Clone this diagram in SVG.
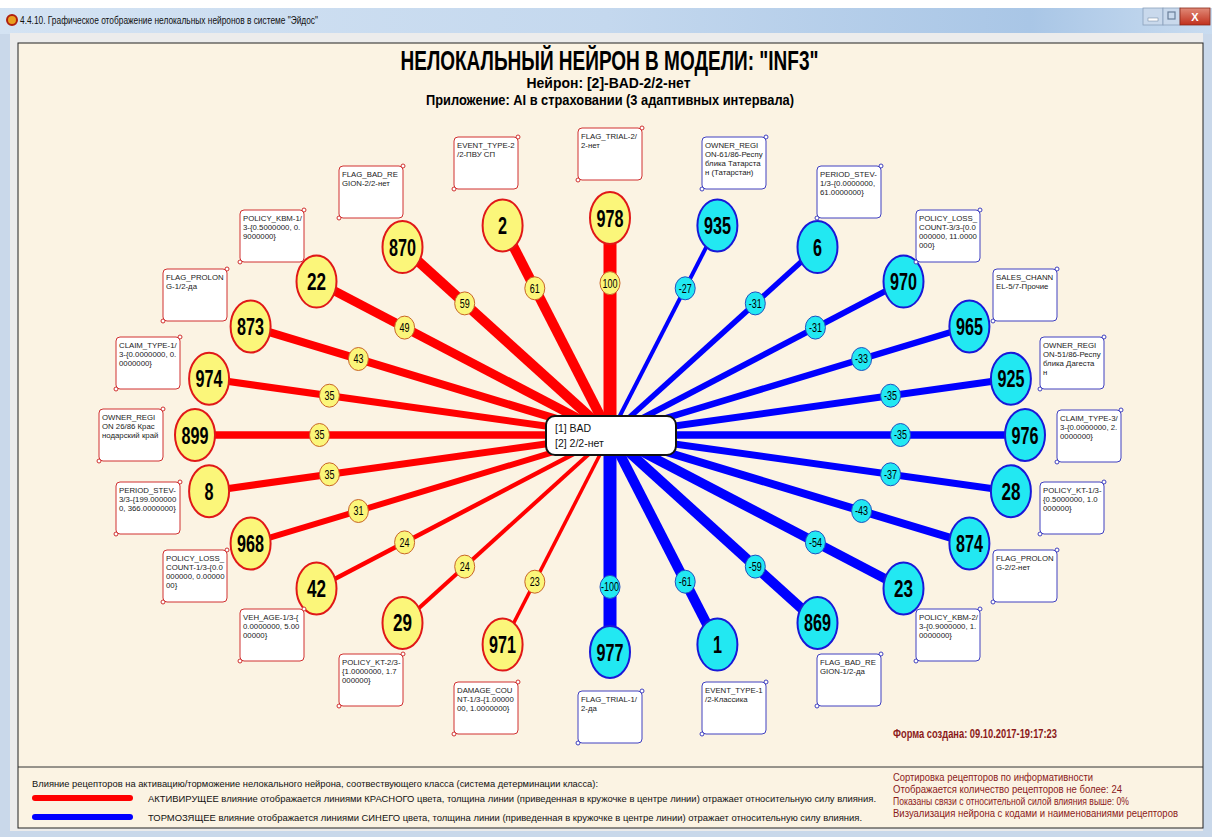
<svg xmlns="http://www.w3.org/2000/svg" width="1212" height="837" viewBox="0 0 1212 837">
<defs>
<linearGradient id="tb" x1="0" y1="0" x2="1" y2="0">
<stop offset="0" stop-color="#d4e3f3"/><stop offset="0.5" stop-color="#c4d8ee"/><stop offset="0.85" stop-color="#a9c6e6"/><stop offset="1" stop-color="#c9dcf0"/>
</linearGradient>
<linearGradient id="cl" x1="0" y1="0" x2="0" y2="1">
<stop offset="0" stop-color="#e08a78"/><stop offset="1" stop-color="#c1301c"/>
</linearGradient>
</defs>
<style>
.t{font-family:"Liberation Sans",Arial,sans-serif}
.ln-r{stroke:#FF0000;fill:none}
.ln-b{stroke:#0000FF;fill:none}
.nd-r{fill:#FBF67A;stroke:#E01818;stroke-width:2}
.nd-b{fill:#22E8F2;stroke:#1818D8;stroke-width:2}
.num{font-family:"Liberation Sans",Arial,sans-serif;font-weight:bold;font-size:24px;text-anchor:middle;fill:#000}
.ml-r{fill:#FBF67A;stroke:#C86428;stroke-width:1}
.ml-b{fill:#22E8F2;stroke:#2050C0;stroke-width:1}
.mt{font-family:"Liberation Sans",Arial,sans-serif;font-size:12px;text-anchor:middle;fill:#000}
.bx-r{fill:#fff;stroke:#D03030;stroke-width:1}
.bx-b{fill:#fff;stroke:#4040C0;stroke-width:1}
.dt-r{fill:#fff;stroke:#D03030;stroke-width:1}
.dt-b{fill:#fff;stroke:#4040C0;stroke-width:1}
.bt{font-family:"Liberation Sans",Arial,sans-serif;font-size:7.8px;fill:#222}
.lg{font-family:"Liberation Sans",Arial,sans-serif;font-size:9.5px;fill:#111}
.lr{font-family:"Liberation Sans",Arial,sans-serif;font-size:10px;fill:#8B1A1A}
</style>

<!-- window chrome -->
<rect x="0" y="0" width="1212" height="837" fill="#ffffff"/>
<rect x="0" y="8" width="1212" height="829" fill="#c9d8ea"/>
<rect x="0" y="8" width="1212" height="26" fill="url(#tb)"/>
<rect x="10" y="33" width="1193" height="798" fill="#ececec"/>
<circle cx="12" cy="20" r="5" fill="#e8a020" stroke="#b02010" stroke-width="2"/>
<text class="t" x="20" y="24" font-size="10" fill="#111" textLength="298" lengthAdjust="spacingAndGlyphs">4.4.10. Графическое отображение нелокальных нейронов в системе "Эйдос"</text>
<rect x="1143" y="8" width="20" height="17" fill="#c9d9ec" stroke="#8aa0bc" stroke-width="0.8"/>
<rect x="1148" y="18" width="10" height="3" fill="#ffffff" stroke="#6a7f99" stroke-width="0.5"/>
<rect x="1163" y="8" width="17" height="17" fill="#c9d9ec" stroke="#8aa0bc" stroke-width="0.8"/>
<rect x="1168" y="12" width="7" height="7" fill="none" stroke="#6a7f99" stroke-width="1.2"/>
<rect x="1180" y="8" width="30" height="17" fill="url(#cl)" stroke="#8a2a1a" stroke-width="0.8"/>
<text class="t" x="1195" y="21" font-size="11" font-weight="bold" fill="#ffffff" text-anchor="middle">X</text>

<!-- drawing panel -->
<rect x="18" y="43" width="1185" height="785" fill="#FBF3E3" stroke="#222" stroke-width="1"/>
<line x1="18" y1="767" x2="1203" y2="767" stroke="#333" stroke-width="1"/>

<!-- titles -->
<text class="t" x="609.5" y="70" font-size="27" font-weight="bold" text-anchor="middle" fill="#000" textLength="418" lengthAdjust="spacingAndGlyphs">НЕЛОКАЛЬНЫЙ НЕЙРОН В МОДЕЛИ: "INF3"</text>
<text class="t" x="608.5" y="88" font-size="14" font-weight="bold" text-anchor="middle" fill="#000" textLength="164" lengthAdjust="spacingAndGlyphs">Нейрон: [2]-BAD-2/2-нет</text>
<text class="t" x="610" y="105" font-size="14" font-weight="bold" text-anchor="middle" fill="#000" textLength="368" lengthAdjust="spacingAndGlyphs">Приложение: AI в страховании (3 адаптивных интервала)</text>

<!-- connectors -->
<g id="connectors">
<line class="ln-r" x1="610" y1="435" x2="610" y2="218" stroke-width="13"/>
<line class="ln-r" x1="610" y1="435" x2="502.6" y2="225.4" stroke-width="10"/>
<line class="ln-r" x1="610" y1="435" x2="402.5" y2="247.1" stroke-width="10"/>
<line class="ln-r" x1="610" y1="435" x2="316.5" y2="281.6" stroke-width="9"/>
<line class="ln-r" x1="610" y1="435" x2="250.6" y2="326.5" stroke-width="8"/>
<line class="ln-r" x1="610" y1="435" x2="209.1" y2="378.8" stroke-width="7"/>
<line class="ln-r" x1="610" y1="435" x2="195" y2="435" stroke-width="7.5"/>
<line class="ln-r" x1="610" y1="435" x2="209.1" y2="491.2" stroke-width="7"/>
<line class="ln-r" x1="610" y1="435" x2="250.6" y2="543.5" stroke-width="6"/>
<line class="ln-r" x1="610" y1="435" x2="316.5" y2="588.4" stroke-width="4.5"/>
<line class="ln-r" x1="610" y1="435" x2="402.5" y2="622.9" stroke-width="4"/>
<line class="ln-r" x1="610" y1="435" x2="502.6" y2="644.6" stroke-width="3.5"/>
<line class="ln-b" x1="610" y1="435" x2="717.4" y2="225.4" stroke-width="4"/>
<line class="ln-b" x1="610" y1="435" x2="817.5" y2="247.1" stroke-width="5.5"/>
<line class="ln-b" x1="610" y1="435" x2="903.5" y2="281.6" stroke-width="6"/>
<line class="ln-b" x1="610" y1="435" x2="969.4" y2="326.5" stroke-width="6.5"/>
<line class="ln-b" x1="610" y1="435" x2="1010.9" y2="378.8" stroke-width="7"/>
<line class="ln-b" x1="610" y1="435" x2="1025" y2="435" stroke-width="7.5"/>
<line class="ln-b" x1="610" y1="435" x2="1010.9" y2="491.2" stroke-width="7"/>
<line class="ln-b" x1="610" y1="435" x2="969.4" y2="543.5" stroke-width="8"/>
<line class="ln-b" x1="610" y1="435" x2="903.5" y2="588.4" stroke-width="9.5"/>
<line class="ln-b" x1="610" y1="435" x2="817.5" y2="622.9" stroke-width="10"/>
<line class="ln-b" x1="610" y1="435" x2="717.4" y2="644.6" stroke-width="10"/>
<line class="ln-b" x1="610" y1="435" x2="610" y2="652" stroke-width="13"/>

<ellipse class="ml-r" cx="610" cy="283.1" rx="10" ry="11.5"/><text class="mt" x="610" y="287.5" textLength="15" lengthAdjust="spacingAndGlyphs">100</text>
<ellipse class="ml-r" cx="534.8" cy="288.3" rx="10" ry="11.5"/><text class="mt" x="534.8" y="292.7" textLength="10" lengthAdjust="spacingAndGlyphs">61</text>
<ellipse class="ml-r" cx="464.7" cy="303.4" rx="10" ry="11.5"/><text class="mt" x="464.7" y="307.8" textLength="10" lengthAdjust="spacingAndGlyphs">59</text>
<ellipse class="ml-r" cx="404.6" cy="327.6" rx="10" ry="11.5"/><text class="mt" x="404.6" y="332" textLength="10" lengthAdjust="spacingAndGlyphs">49</text>
<ellipse class="ml-r" cx="358.4" cy="359" rx="10" ry="11.5"/><text class="mt" x="358.4" y="363.4" textLength="10" lengthAdjust="spacingAndGlyphs">43</text>
<ellipse class="ml-r" cx="329.4" cy="395.7" rx="10" ry="11.5"/><text class="mt" x="329.4" y="400.1" textLength="10" lengthAdjust="spacingAndGlyphs">35</text>
<ellipse class="ml-r" cx="319.5" cy="435" rx="10" ry="11.5"/><text class="mt" x="319.5" y="439.4" textLength="10" lengthAdjust="spacingAndGlyphs">35</text>
<ellipse class="ml-r" cx="329.4" cy="474.3" rx="10" ry="11.5"/><text class="mt" x="329.4" y="478.7" textLength="10" lengthAdjust="spacingAndGlyphs">35</text>
<ellipse class="ml-r" cx="358.4" cy="511" rx="10" ry="11.5"/><text class="mt" x="358.4" y="515.4" textLength="10" lengthAdjust="spacingAndGlyphs">31</text>
<ellipse class="ml-r" cx="404.6" cy="542.4" rx="10" ry="11.5"/><text class="mt" x="404.6" y="546.8" textLength="10" lengthAdjust="spacingAndGlyphs">24</text>
<ellipse class="ml-r" cx="464.7" cy="566.6" rx="10" ry="11.5"/><text class="mt" x="464.7" y="571" textLength="10" lengthAdjust="spacingAndGlyphs">24</text>
<ellipse class="ml-r" cx="534.8" cy="581.7" rx="10" ry="11.5"/><text class="mt" x="534.8" y="586.1" textLength="10" lengthAdjust="spacingAndGlyphs">23</text>
<ellipse class="ml-b" cx="685.2" cy="288.3" rx="10" ry="11.5"/><text class="mt" x="685.2" y="292.7" textLength="13" lengthAdjust="spacingAndGlyphs">-27</text>
<ellipse class="ml-b" cx="755.3" cy="303.4" rx="10" ry="11.5"/><text class="mt" x="755.3" y="307.8" textLength="13" lengthAdjust="spacingAndGlyphs">-31</text>
<ellipse class="ml-b" cx="815.4" cy="327.6" rx="10" ry="11.5"/><text class="mt" x="815.4" y="332" textLength="13" lengthAdjust="spacingAndGlyphs">-31</text>
<ellipse class="ml-b" cx="861.6" cy="359" rx="10" ry="11.5"/><text class="mt" x="861.6" y="363.4" textLength="13" lengthAdjust="spacingAndGlyphs">-33</text>
<ellipse class="ml-b" cx="890.6" cy="395.7" rx="10" ry="11.5"/><text class="mt" x="890.6" y="400.1" textLength="13" lengthAdjust="spacingAndGlyphs">-35</text>
<ellipse class="ml-b" cx="900.5" cy="435" rx="10" ry="11.5"/><text class="mt" x="900.5" y="439.4" textLength="13" lengthAdjust="spacingAndGlyphs">-35</text>
<ellipse class="ml-b" cx="890.6" cy="474.3" rx="10" ry="11.5"/><text class="mt" x="890.6" y="478.7" textLength="13" lengthAdjust="spacingAndGlyphs">-37</text>
<ellipse class="ml-b" cx="861.6" cy="511" rx="10" ry="11.5"/><text class="mt" x="861.6" y="515.4" textLength="13" lengthAdjust="spacingAndGlyphs">-43</text>
<ellipse class="ml-b" cx="815.4" cy="542.4" rx="10" ry="11.5"/><text class="mt" x="815.4" y="546.8" textLength="13" lengthAdjust="spacingAndGlyphs">-54</text>
<ellipse class="ml-b" cx="755.3" cy="566.6" rx="10" ry="11.5"/><text class="mt" x="755.3" y="571" textLength="13" lengthAdjust="spacingAndGlyphs">-59</text>
<ellipse class="ml-b" cx="685.2" cy="581.7" rx="10" ry="11.5"/><text class="mt" x="685.2" y="586.1" textLength="13" lengthAdjust="spacingAndGlyphs">-61</text>
<ellipse class="ml-b" cx="610" cy="586.9" rx="10" ry="11.5"/><text class="mt" x="610" y="591.3" textLength="18" lengthAdjust="spacingAndGlyphs">-100</text>
</g>

<!-- center neuron -->
<g id="neuron">
<rect x="546" y="416" width="130" height="39" rx="9" fill="#fff" stroke="#111" stroke-width="2"/>
<text class="t" x="555" y="432" font-size="10.5" fill="#111">[1] BAD</text>
<text class="t" x="555" y="447" font-size="10.5" fill="#111">[2] 2/2-нет</text>
</g>

<!-- red (activating) receptors -->
<g id="n978">
<ellipse class="nd-r" cx="610" cy="218" rx="20" ry="26"/><text class="num" x="610" y="226.5" textLength="27" lengthAdjust="spacingAndGlyphs">978</text>
<rect class="bx-r" x="578" y="128" width="64" height="52" rx="4"/><circle class="dt-r" cx="642" cy="128" r="2"/><circle class="dt-r" cx="578" cy="180" r="2"/>
<text class="bt" x="581" y="139">FLAG_TRIAL-2/<tspan x="581" dy="9">2-нет</tspan></text>
</g>
<g id="n2">
<ellipse class="nd-r" cx="502.6" cy="225.4" rx="20" ry="26"/><text class="num" x="502.6" y="233.9" textLength="9" lengthAdjust="spacingAndGlyphs">2</text>
<rect class="bx-r" x="454" y="137" width="64" height="52" rx="4"/><circle class="dt-r" cx="518" cy="137" r="2"/><circle class="dt-r" cx="454" cy="189" r="2"/>
<text class="bt" x="457" y="148">EVENT_TYPE-2<tspan x="457" dy="9">/2-ПВУ СП</tspan></text>
</g>
<g id="n870">
<ellipse class="nd-r" cx="402.5" cy="247.1" rx="20" ry="26"/><text class="num" x="402.5" y="255.6" textLength="27" lengthAdjust="spacingAndGlyphs">870</text>
<rect class="bx-r" x="339" y="166" width="64" height="52" rx="4"/><circle class="dt-r" cx="403" cy="166" r="2"/><circle class="dt-r" cx="339" cy="218" r="2"/>
<text class="bt" x="342" y="177">FLAG_BAD_RE<tspan x="342" dy="9">GION-2/2-нет</tspan></text>
</g>
<g id="n22">
<ellipse class="nd-r" cx="316.5" cy="281.6" rx="20" ry="26"/><text class="num" x="316.5" y="290.1" textLength="19" lengthAdjust="spacingAndGlyphs">22</text>
<rect class="bx-r" x="240" y="210" width="64" height="52" rx="4"/><circle class="dt-r" cx="304" cy="210" r="2"/><circle class="dt-r" cx="240" cy="262" r="2"/>
<text class="bt" x="243" y="221">POLICY_KBM-1/<tspan x="243" dy="9">3-{0.5000000, 0.</tspan><tspan x="243" dy="9">9000000}</tspan></text>
</g>
<g id="n873">
<ellipse class="nd-r" cx="250.6" cy="326.5" rx="20" ry="26"/><text class="num" x="250.6" y="335" textLength="27" lengthAdjust="spacingAndGlyphs">873</text>
<rect class="bx-r" x="163" y="269" width="64" height="52" rx="4"/><circle class="dt-r" cx="227" cy="269" r="2"/><circle class="dt-r" cx="163" cy="321" r="2"/>
<text class="bt" x="166" y="280">FLAG_PROLON<tspan x="166" dy="9">G-1/2-да</tspan></text>
</g>
<g id="n974">
<ellipse class="nd-r" cx="209.1" cy="378.8" rx="20" ry="26"/><text class="num" x="209.1" y="387.3" textLength="27" lengthAdjust="spacingAndGlyphs">974</text>
<rect class="bx-r" x="116" y="337" width="64" height="52" rx="4"/><circle class="dt-r" cx="180" cy="337" r="2"/><circle class="dt-r" cx="116" cy="389" r="2"/>
<text class="bt" x="119" y="348">CLAIM_TYPE-1/<tspan x="119" dy="9">3-{0.0000000, 0.</tspan><tspan x="119" dy="9">0000000}</tspan></text>
</g>
<g id="n899">
<ellipse class="nd-r" cx="195" cy="435" rx="20" ry="26"/><text class="num" x="195" y="443.5" textLength="27" lengthAdjust="spacingAndGlyphs">899</text>
<rect class="bx-r" x="99" y="409" width="64" height="52" rx="4"/><circle class="dt-r" cx="163" cy="409" r="2"/><circle class="dt-r" cx="99" cy="461" r="2"/>
<text class="bt" x="102" y="420">OWNER_REGI<tspan x="102" dy="9">ON 26/86 Крас</tspan><tspan x="102" dy="9">нодарский край</tspan></text>
</g>
<g id="n8">
<ellipse class="nd-r" cx="209.1" cy="491.2" rx="20" ry="26"/><text class="num" x="209.1" y="499.7" textLength="9" lengthAdjust="spacingAndGlyphs">8</text>
<rect class="bx-r" x="116" y="482" width="64" height="52" rx="4"/><circle class="dt-r" cx="180" cy="482" r="2"/><circle class="dt-r" cx="116" cy="534" r="2"/>
<text class="bt" x="119" y="493">PERIOD_STEV-<tspan x="119" dy="9">3/3-{199.000000</tspan><tspan x="119" dy="9">0, 366.0000000}</tspan></text>
</g>
<g id="n968">
<ellipse class="nd-r" cx="250.6" cy="543.5" rx="20" ry="26"/><text class="num" x="250.6" y="552" textLength="27" lengthAdjust="spacingAndGlyphs">968</text>
<rect class="bx-r" x="163" y="550" width="64" height="52" rx="4"/><circle class="dt-r" cx="227" cy="550" r="2"/><circle class="dt-r" cx="163" cy="602" r="2"/>
<text class="bt" x="166" y="561">POLICY_LOSS_<tspan x="166" dy="9">COUNT-1/3-{0.0</tspan><tspan x="166" dy="9">000000, 0.00000</tspan><tspan x="166" dy="9">00}</tspan></text>
</g>
<g id="n42">
<ellipse class="nd-r" cx="316.5" cy="588.4" rx="20" ry="26"/><text class="num" x="316.5" y="596.9" textLength="19" lengthAdjust="spacingAndGlyphs">42</text>
<rect class="bx-r" x="240" y="609" width="64" height="52" rx="4"/><circle class="dt-r" cx="304" cy="609" r="2"/><circle class="dt-r" cx="240" cy="661" r="2"/>
<text class="bt" x="243" y="620">VEH_AGE-1/3-{<tspan x="243" dy="9">0.0000000, 5.00</tspan><tspan x="243" dy="9">00000}</tspan></text>
</g>
<g id="n29">
<ellipse class="nd-r" cx="402.5" cy="622.9" rx="20" ry="26"/><text class="num" x="402.5" y="631.4" textLength="19" lengthAdjust="spacingAndGlyphs">29</text>
<rect class="bx-r" x="339" y="654" width="64" height="52" rx="4"/><circle class="dt-r" cx="403" cy="654" r="2"/><circle class="dt-r" cx="339" cy="706" r="2"/>
<text class="bt" x="342" y="665">POLICY_KT-2/3-<tspan x="342" dy="9">{1.0000000, 1.7</tspan><tspan x="342" dy="9">000000}</tspan></text>
</g>
<g id="n971">
<ellipse class="nd-r" cx="502.6" cy="644.6" rx="20" ry="26"/><text class="num" x="502.6" y="653.1" textLength="27" lengthAdjust="spacingAndGlyphs">971</text>
<rect class="bx-r" x="454" y="682" width="64" height="52" rx="4"/><circle class="dt-r" cx="518" cy="682" r="2"/><circle class="dt-r" cx="454" cy="734" r="2"/>
<text class="bt" x="457" y="693">DAMAGE_COU<tspan x="457" dy="9">NT-1/3-{1.00000</tspan><tspan x="457" dy="9">00, 1.0000000}</tspan></text>
</g>

<!-- blue (inhibiting) receptors -->
<g id="n935">
<ellipse class="nd-b" cx="717.4" cy="225.4" rx="20" ry="26"/><text class="num" x="717.4" y="233.9" textLength="27" lengthAdjust="spacingAndGlyphs">935</text>
<rect class="bx-b" x="702" y="137" width="64" height="52" rx="4"/><circle class="dt-b" cx="766" cy="137" r="2"/><circle class="dt-b" cx="702" cy="189" r="2"/>
<text class="bt" x="705" y="148">OWNER_REGI<tspan x="705" dy="9">ON-61/86-Респу</tspan><tspan x="705" dy="9">блика Татарста</tspan><tspan x="705" dy="9">н (Татарстан)</tspan></text>
</g>
<g id="n6">
<ellipse class="nd-b" cx="817.5" cy="247.1" rx="20" ry="26"/><text class="num" x="817.5" y="255.6" textLength="9" lengthAdjust="spacingAndGlyphs">6</text>
<rect class="bx-b" x="817" y="166" width="64" height="52" rx="4"/><circle class="dt-b" cx="881" cy="166" r="2"/><circle class="dt-b" cx="817" cy="218" r="2"/>
<text class="bt" x="820" y="177">PERIOD_STEV-<tspan x="820" dy="9">1/3-{0.0000000,</tspan><tspan x="820" dy="9">61.0000000}</tspan></text>
</g>
<g id="n970">
<ellipse class="nd-b" cx="903.5" cy="281.6" rx="20" ry="26"/><text class="num" x="903.5" y="290.1" textLength="27" lengthAdjust="spacingAndGlyphs">970</text>
<rect class="bx-b" x="916" y="210" width="64" height="52" rx="4"/><circle class="dt-b" cx="980" cy="210" r="2"/><circle class="dt-b" cx="916" cy="262" r="2"/>
<text class="bt" x="919" y="221">POLICY_LOSS_<tspan x="919" dy="9">COUNT-3/3-{0.0</tspan><tspan x="919" dy="9">000000, 11.0000</tspan><tspan x="919" dy="9">000}</tspan></text>
</g>
<g id="n965">
<ellipse class="nd-b" cx="969.4" cy="326.5" rx="20" ry="26"/><text class="num" x="969.4" y="335" textLength="27" lengthAdjust="spacingAndGlyphs">965</text>
<rect class="bx-b" x="993" y="269" width="64" height="52" rx="4"/><circle class="dt-b" cx="1057" cy="269" r="2"/><circle class="dt-b" cx="993" cy="321" r="2"/>
<text class="bt" x="996" y="280">SALES_CHANN<tspan x="996" dy="9">EL-5/7-Прочие</tspan></text>
</g>
<g id="n925">
<ellipse class="nd-b" cx="1010.9" cy="378.8" rx="20" ry="26"/><text class="num" x="1010.9" y="387.3" textLength="27" lengthAdjust="spacingAndGlyphs">925</text>
<rect class="bx-b" x="1040" y="337" width="64" height="52" rx="4"/><circle class="dt-b" cx="1104" cy="337" r="2"/><circle class="dt-b" cx="1040" cy="389" r="2"/>
<text class="bt" x="1043" y="348">OWNER_REGI<tspan x="1043" dy="9">ON-51/86-Респу</tspan><tspan x="1043" dy="9">блика Дагеста</tspan><tspan x="1043" dy="9">н</tspan></text>
</g>
<g id="n976">
<ellipse class="nd-b" cx="1025" cy="435" rx="20" ry="26"/><text class="num" x="1025" y="443.5" textLength="27" lengthAdjust="spacingAndGlyphs">976</text>
<rect class="bx-b" x="1057" y="410" width="64" height="52" rx="4"/><circle class="dt-b" cx="1121" cy="410" r="2"/><circle class="dt-b" cx="1057" cy="462" r="2"/>
<text class="bt" x="1060" y="421">CLAIM_TYPE-3/<tspan x="1060" dy="9">3-{0.0000000, 2.</tspan><tspan x="1060" dy="9">0000000}</tspan></text>
</g>
<g id="n28">
<ellipse class="nd-b" cx="1010.9" cy="491.2" rx="20" ry="26"/><text class="num" x="1010.9" y="499.7" textLength="19" lengthAdjust="spacingAndGlyphs">28</text>
<rect class="bx-b" x="1040" y="482" width="64" height="52" rx="4"/><circle class="dt-b" cx="1104" cy="482" r="2"/><circle class="dt-b" cx="1040" cy="534" r="2"/>
<text class="bt" x="1043" y="493">POLICY_KT-1/3-<tspan x="1043" dy="9">{0.5000000, 1.0</tspan><tspan x="1043" dy="9">000000}</tspan></text>
</g>
<g id="n874">
<ellipse class="nd-b" cx="969.4" cy="543.5" rx="20" ry="26"/><text class="num" x="969.4" y="552" textLength="27" lengthAdjust="spacingAndGlyphs">874</text>
<rect class="bx-b" x="993" y="550" width="64" height="52" rx="4"/><circle class="dt-b" cx="1057" cy="550" r="2"/><circle class="dt-b" cx="993" cy="602" r="2"/>
<text class="bt" x="996" y="561">FLAG_PROLON<tspan x="996" dy="9">G-2/2-нет</tspan></text>
</g>
<g id="n23">
<ellipse class="nd-b" cx="903.5" cy="588.4" rx="20" ry="26"/><text class="num" x="903.5" y="596.9" textLength="19" lengthAdjust="spacingAndGlyphs">23</text>
<rect class="bx-b" x="916" y="609" width="64" height="52" rx="4"/><circle class="dt-b" cx="980" cy="609" r="2"/><circle class="dt-b" cx="916" cy="661" r="2"/>
<text class="bt" x="919" y="620">POLICY_KBM-2/<tspan x="919" dy="9">3-{0.9000000, 1.</tspan><tspan x="919" dy="9">0000000}</tspan></text>
</g>
<g id="n869">
<ellipse class="nd-b" cx="817.5" cy="622.9" rx="20" ry="26"/><text class="num" x="817.5" y="631.4" textLength="27" lengthAdjust="spacingAndGlyphs">869</text>
<rect class="bx-b" x="817" y="654" width="64" height="52" rx="4"/><circle class="dt-b" cx="881" cy="654" r="2"/><circle class="dt-b" cx="817" cy="706" r="2"/>
<text class="bt" x="820" y="665">FLAG_BAD_RE<tspan x="820" dy="9">GION-1/2-да</tspan></text>
</g>
<g id="n1">
<ellipse class="nd-b" cx="717.4" cy="644.6" rx="20" ry="26"/><text class="num" x="717.4" y="653.1" textLength="9" lengthAdjust="spacingAndGlyphs">1</text>
<rect class="bx-b" x="702" y="682" width="64" height="52" rx="4"/><circle class="dt-b" cx="766" cy="682" r="2"/><circle class="dt-b" cx="702" cy="734" r="2"/>
<text class="bt" x="705" y="693">EVENT_TYPE-1<tspan x="705" dy="9">/2-Классика</tspan></text>
</g>
<g id="n977">
<ellipse class="nd-b" cx="610" cy="652" rx="20" ry="26"/><text class="num" x="610" y="660.5" textLength="27" lengthAdjust="spacingAndGlyphs">977</text>
<rect class="bx-b" x="578" y="691" width="64" height="52" rx="4"/><circle class="dt-b" cx="642" cy="691" r="2"/><circle class="dt-b" cx="578" cy="743" r="2"/>
<text class="bt" x="581" y="702">FLAG_TRIAL-1/<tspan x="581" dy="9">2-да</tspan></text>
</g>

<!-- date -->
<text class="t" x="893" y="738" font-size="12.5" font-weight="bold" fill="#8B1A1A" textLength="164" lengthAdjust="spacingAndGlyphs">Форма создана: 09.10.2017-19:17:23</text>

<!-- legend -->
<g id="legend">
<text class="lg" x="32" y="787" font-size="10" textLength="566" lengthAdjust="spacingAndGlyphs">Влияние рецепторов на активацию/торможение нелокального нейрона, соотвествующего класса (система детерминации класса):</text>
<line x1="35" y1="798" x2="130" y2="798" stroke="#FF0000" stroke-width="6" stroke-linecap="round"/>
<text class="lg" x="148" y="802" textLength="728" lengthAdjust="spacingAndGlyphs">АКТИВИРУЩЕЕ влияние отображается линиями КРАСНОГО цвета, толщина линии (приведенная в кружочке в центре линии) отражает относительную силу влияния.</text>
<line x1="35" y1="817" x2="130" y2="817" stroke="#0000FF" stroke-width="6" stroke-linecap="round"/>
<text class="lg" x="148" y="821" textLength="714" lengthAdjust="spacingAndGlyphs">ТОРМОЗЯЩЕЕ влияние отображается линиями СИНЕГО цвета, толщина линии (приведенная в кружочке в центре линии) отражает относительную силу влияния.</text>
<text class="lr" x="893" y="781" textLength="200" lengthAdjust="spacingAndGlyphs">Сортировка рецепторов по информативности</text>
<text class="lr" x="893" y="793" textLength="229" lengthAdjust="spacingAndGlyphs">Отображается количество рецепторов не более: 24</text>
<text class="lr" x="893" y="805" textLength="236" lengthAdjust="spacingAndGlyphs">Показаны связи с относительной силой влияния выше: 0%</text>
<text class="lr" x="893" y="817" textLength="285" lengthAdjust="spacingAndGlyphs">Визуализация нейрона с кодами и наименованиями рецепторов</text>
</g>
</svg>
